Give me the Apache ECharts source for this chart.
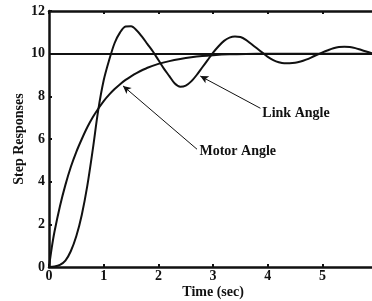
<!DOCTYPE html>
<html>
<head>
<meta charset="utf-8">
<script src="https://cdn.jsdelivr.net/npm/echarts@6/dist/echarts.min.js"></script>
<style>
html,body{margin:0;padding:0;background:#fff;}
#c{width:372px;height:301px;}
</style>
</head>
<body>
<div id="c"></div>
<script>
// Time samples (sec) and values
var linkT = [0,0.1,0.2,0.3,0.4,0.5,0.6,0.7,0.8,0.9,1.0,1.1,1.2,1.3,1.4,1.5,1.6,1.7,1.8,1.9,2.0,2.1,2.2,2.3,2.4,2.5,2.6,2.7,2.8,2.9,3.0,3.1,3.2,3.3,3.4,3.5,3.6,3.7,3.8,3.9,4.0,4.1,4.2,4.3,4.4,4.5,4.6,4.7,4.8,4.9,5.0,5.1,5.2,5.3,5.4,5.5,5.6,5.7,5.8,5.9,6.0];
var linkV = [0,0.02,0.1,0.3,0.75,1.45,2.45,3.8,5.5,7.35,8.75,9.7,10.5,11.0,11.27,11.28,11.1,10.8,10.45,10.1,9.7,9.3,8.95,8.6,8.45,8.5,8.7,9.0,9.35,9.7,10.05,10.35,10.6,10.75,10.8,10.78,10.65,10.45,10.25,10.05,9.85,9.7,9.6,9.55,9.55,9.57,9.63,9.72,9.83,9.95,10.06,10.16,10.25,10.31,10.33,10.31,10.26,10.18,10.1,10.02,9.95];
var motorT = [0,0.05,0.1,0.2,0.3,0.4,0.5,0.6,0.7,0.8,0.9,1.0,1.1,1.2,1.3,1.4,1.5,1.6,1.8,2.0,2.2,2.4,2.6,2.8,3.0,3.3,3.6,4.0,5.0,6.0];
var motorV = [0,0.9,1.65,2.85,3.85,4.7,5.4,6.0,6.55,7.02,7.42,7.78,8.08,8.34,8.57,8.77,8.94,9.09,9.34,9.52,9.65,9.75,9.83,9.89,9.93,9.97,9.99,10.0,10.0,10.0];
var refValue = 10;
var xTicks = [0,1,2,3,4,5];
var yTicks = [0,2,4,6,8,10,12];
var linkLabel = "Link Angle";
var motorLabel = "Motor Angle";
var xTitle = "Time (sec)";
var yTitle = "Step Responses";

function pairs(t, v){ return t.map(function(x,i){ return [x, v[i]]; }); }

var font = "Liberation Serif";
var ink = "#111";
var chart = echarts.init(document.getElementById('c'), null, {renderer:'canvas'});
var axisCommon = {
  type:'value', min:0, max:6, interval:1,
  splitLine:{show:false},
  axisLine:{show:true, onZero:false, lineStyle:{color:ink, width:2.5}},
  axisTick:{show:true, inside:true, length:3, lineStyle:{color:ink, width:2}}
};
chart.setOption({
  animation:false,
  backgroundColor:'#fff',
  grid:{left:49, top:11, width:328.2, height:256, outerBoundsMode:'none', containLabel:false},
  xAxis:[
    Object.assign({}, axisCommon, {
      position:'bottom',
      name:xTitle, nameLocation:'middle', nameGap:18, nameMoveOverlap:false,
      nameTextStyle:{fontFamily:font, fontWeight:'bold', fontSize:14, color:ink},
      axisLabel:{margin:2, fontFamily:font, fontWeight:'bold', fontSize:14, color:ink,
        formatter:function(v){ return xTicks.indexOf(v) >= 0 ? String(v) : ''; }}
    }),
    Object.assign({}, axisCommon, {position:'top', axisLabel:{show:false}})
  ],
  yAxis:{
    type:'value', min:0, max:12, interval:2,
    splitLine:{show:false},
    axisLine:{show:true, onZero:false, lineStyle:{color:ink, width:2.5}},
    axisTick:{show:true, inside:true, length:3, lineStyle:{color:ink, width:2}},
    name:yTitle, nameLocation:'middle', nameGap:23, nameRotate:90, nameMoveOverlap:false,
    nameTextStyle:{fontFamily:font, fontWeight:'bold', fontSize:14, color:ink},
    axisLabel:{margin:4, fontFamily:font, fontWeight:'bold', fontSize:14, color:ink,
      formatter:function(v){ return yTicks.indexOf(v) >= 0 ? String(v) : ''; }}
  },
  series:[
    {
      type:'line', data:pairs(linkT, linkV), smooth:0.3, symbol:'none',
      lineStyle:{color:ink, width:2}, z:3,
      markLine:{
        silent:true, symbol:['none','arrow'], symbolSize:[6,8], animation:false,
        label:{show:false},
        lineStyle:{color:ink, width:1, type:'solid'},
        data:[
          [{coord:[3.865,7.44]},{coord:[2.766,8.95]}],
          [{coord:[2.706,5.52]},{coord:[1.353,8.49]}]
        ]
      },
      markPoint:{
        silent:true, symbol:'circle', symbolSize:0, animation:false,
        label:{show:true, position:'right', distance:0, fontFamily:font, fontWeight:'bold', fontSize:14, color:ink,
          formatter:function(p){ return p.name; }},
        data:[
          {name:linkLabel, coord:[3.9,7.22]},
          {name:motorLabel, coord:[2.75,5.44]}
        ]
      }
    },
    {
      type:'line', data:pairs(motorT, motorV), smooth:0.3, symbol:'none',
      lineStyle:{color:ink, width:2}, z:3,
      markLine:{
        silent:true, symbol:['none','none'], animation:false,
        label:{show:false},
        lineStyle:{color:ink, width:2, type:'solid'},
        data:[{yAxis:refValue}]
      }
    }
  ]
});
</script>
</body>
</html>
